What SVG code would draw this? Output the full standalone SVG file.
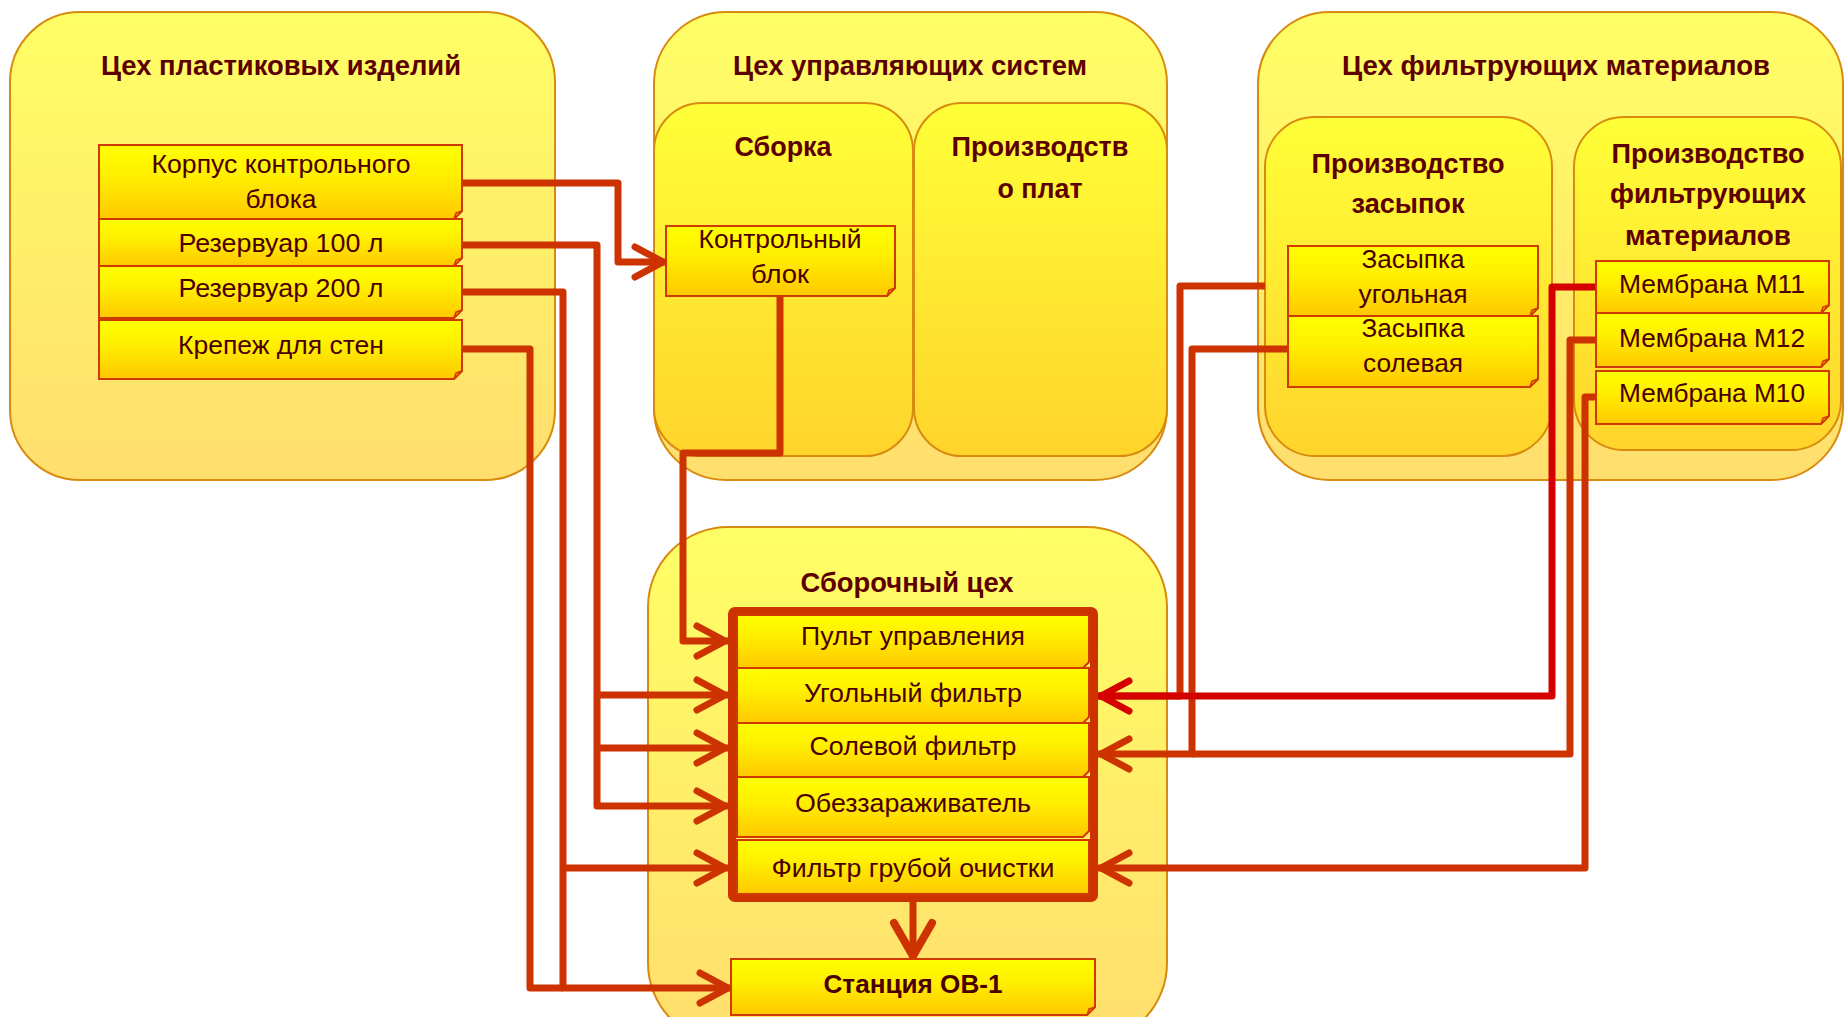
<svg xmlns="http://www.w3.org/2000/svg" width="1845" height="1017" viewBox="0 0 1845 1017">
<defs>
<linearGradient id="gGrp" x1="0" y1="0" x2="0" y2="1"><stop offset="0" stop-color="#FFFF66"/><stop offset="1" stop-color="#FFDE6E"/></linearGradient>
<linearGradient id="gSub" x1="0" y1="0" x2="0" y2="1"><stop offset="0" stop-color="#FFFF38"/><stop offset="1" stop-color="#FFD42C"/></linearGradient>
<linearGradient id="gNode" x1="0" y1="0" x2="0" y2="1"><stop offset="0" stop-color="#FFFF00"/><stop offset="0.4" stop-color="#FFF000"/><stop offset="1" stop-color="#FFC800"/></linearGradient>
<marker id="arr" markerUnits="userSpaceOnUse" markerWidth="44" markerHeight="44" refX="35" refY="20" orient="auto" overflow="visible"><path d="M4,5 L32,20 L4,35" fill="none" stroke="#CC3300" stroke-width="7" stroke-linecap="round" stroke-linejoin="round"/></marker>
<marker id="arrRed" markerUnits="userSpaceOnUse" markerWidth="44" markerHeight="44" refX="35" refY="20" orient="auto" overflow="visible"><path d="M4,5 L32,20 L4,35" fill="none" stroke="#D40000" stroke-width="7" stroke-linecap="round" stroke-linejoin="round"/></marker>
<marker id="arrBig" markerUnits="userSpaceOnUse" markerWidth="50" markerHeight="50" refX="40" refY="22" orient="auto" overflow="visible"><path d="M4,3 L37,22 L4,41" fill="none" stroke="#CC3300" stroke-width="8" stroke-linecap="round" stroke-linejoin="round"/></marker>
</defs>
<style>
.grp{fill:url(#gGrp);stroke:#D98B0F;stroke-width:2}
.sub{fill:url(#gSub);stroke:#D98B0F;stroke-width:2}
.node{fill:url(#gNode);stroke:#D03A00;stroke-width:2}
.fold{fill:#F0A000;stroke:#D03A00;stroke-width:1.5}
.frame{fill:none;stroke:#CC3300;stroke-width:8}
.title{font-family:"Liberation Sans",Arial,sans-serif;font-weight:bold;font-size:28px;fill:#5C0000;text-anchor:middle}
.lbl{font-family:"Liberation Sans",Arial,sans-serif;font-size:25px;fill:#4A0000;text-anchor:middle}
.con{fill:none;stroke:#CC3300;stroke-width:7;stroke-linejoin:round}
.red{stroke:#D40000}
</style>
<rect width="1845" height="1017" fill="#FFFFFF"/>

<g id="shop-plastic">
<rect class="grp" x="10" y="12" width="545" height="468" rx="70"/>
<text class="title" x="281" y="75" textLength="360" lengthAdjust="spacingAndGlyphs">Цех пластиковых изделий</text>
</g>
<g id="shop-control">
<rect class="grp" x="654" y="12" width="513" height="468" rx="72"/>
<text class="title" x="910" y="75" textLength="354" lengthAdjust="spacingAndGlyphs">Цех управляющих систем</text>
</g>
<g id="sub-assembly">
<rect class="sub" x="654" y="103" width="259" height="353" rx="48"/>
<text class="title" x="783" y="156" textLength="97" lengthAdjust="spacingAndGlyphs">Сборка</text>
</g>
<g id="sub-boards">
<rect class="sub" x="914" y="103" width="253" height="353" rx="48"/>
<text class="title" x="1040" y="156" textLength="177" lengthAdjust="spacingAndGlyphs">Производств</text>
<text class="title" x="1040" y="198" textLength="85" lengthAdjust="spacingAndGlyphs">о плат</text>
</g>
<g id="shop-filter">
<rect class="grp" x="1258" y="12" width="585" height="468" rx="72"/>
<text class="title" x="1556" y="75" textLength="428" lengthAdjust="spacingAndGlyphs">Цех фильтрующих материалов</text>
</g>
<g id="sub-fill">
<rect class="sub" x="1265" y="117" width="287" height="339" rx="50"/>
<text class="title" x="1408" y="173" textLength="193" lengthAdjust="spacingAndGlyphs">Производство</text>
<text class="title" x="1408" y="213" textLength="113" lengthAdjust="spacingAndGlyphs">засыпок</text>
</g>
<g id="sub-membrane">
<rect class="sub" x="1574" y="117" width="267" height="333" rx="50"/>
<text class="title" x="1708" y="163" textLength="193" lengthAdjust="spacingAndGlyphs">Производство</text>
<text class="title" x="1708" y="203" textLength="196" lengthAdjust="spacingAndGlyphs">фильтрующих</text>
<text class="title" x="1708" y="245" textLength="166" lengthAdjust="spacingAndGlyphs">материалов</text>
</g>
<g id="shop-assembly">
<rect class="grp" x="648" y="527" width="519" height="516" rx="80"/>
<text class="title" x="907" y="592" textLength="213" lengthAdjust="spacingAndGlyphs">Сборочный цех</text>
</g>

<g id="connectors">
<path class="con" d="M462,183 H618 V262 H666" marker-end="url(#arr)"/>
<path class="con" d="M462,245 H597 V806 H728" marker-end="url(#arr)"/>
<path class="con" d="M597,695 H728" marker-end="url(#arr)"/>
<path class="con" d="M597,748 H728" marker-end="url(#arr)"/>
<path class="con" d="M462,292 H563 V988 H731" marker-end="url(#arr)"/>
<path class="con" d="M563,868 H728" marker-end="url(#arr)"/>
<path class="con" d="M462,349 H530 V988 H563"/>
<path class="con" d="M780,297 V453 H683 V641 H728" marker-end="url(#arr)"/>
<path class="con" d="M913,902 V959" marker-end="url(#arrBig)"/>
<path class="con" d="M1265,286 H1180 V696 H1098"/>
<path class="con" d="M1288,349 H1192 V754 H1098" marker-end="url(#arr)"/>
<path class="con" d="M1596,340 H1570 V754 H1192"/>
<path class="con" d="M1596,397 H1585 V868 H1098" marker-end="url(#arr)"/>
<path class="con red" d="M1596,287 H1552 V696 H1098" marker-end="url(#arrRed)"/>
</g>

<g id="n-korpus">
<path class="node" d="M99,145 H462 V211 L454,219 H99 Z"/><path class="fold" d="M454,219 L456,213 L462,211 Z"/>
<text class="lbl" x="281" y="173" textLength="259" lengthAdjust="spacingAndGlyphs">Корпус контрольного</text>
<text class="lbl" x="281" y="208" textLength="71" lengthAdjust="spacingAndGlyphs">блока</text>
</g>
<g id="n-rez100">
<path class="node" d="M99,219 H462 V258 L454,266 H99 Z"/><path class="fold" d="M454,266 L456,260 L462,258 Z"/>
<text class="lbl" x="281" y="252" textLength="205" lengthAdjust="spacingAndGlyphs">Резервуар 100 л</text>
</g>
<g id="n-rez200">
<path class="node" d="M99,266 H462 V310 L454,318 H99 Z"/><path class="fold" d="M454,318 L456,312 L462,310 Z"/>
<text class="lbl" x="281" y="297" textLength="205" lengthAdjust="spacingAndGlyphs">Резервуар 200 л</text>
</g>
<g id="n-krepezh">
<path class="node" d="M99,320 H462 V371 L454,379 H99 Z"/><path class="fold" d="M454,379 L456,373 L462,371 Z"/>
<text class="lbl" x="281" y="354" textLength="206" lengthAdjust="spacingAndGlyphs">Крепеж для стен</text>
</g>
<g id="n-kontrol">
<path class="node" d="M666,226 H895 V288 L887,296 H666 Z"/><path class="fold" d="M887,296 L889,290 L895,288 Z"/>
<text class="lbl" x="780" y="248" textLength="163" lengthAdjust="spacingAndGlyphs">Контрольный</text>
<text class="lbl" x="780" y="283" textLength="58" lengthAdjust="spacingAndGlyphs">блок</text>
</g>
<g id="n-zas-ug">
<path class="node" d="M1288,246 H1538 V308 L1530,316 H1288 Z"/><path class="fold" d="M1530,316 L1532,310 L1538,308 Z"/>
<text class="lbl" x="1413" y="268" textLength="103" lengthAdjust="spacingAndGlyphs">Засыпка</text>
<text class="lbl" x="1413" y="303" textLength="109" lengthAdjust="spacingAndGlyphs">угольная</text>
</g>
<g id="n-zas-sol">
<path class="node" d="M1288,316 H1538 V379 L1530,387 H1288 Z"/><path class="fold" d="M1530,387 L1532,381 L1538,379 Z"/>
<text class="lbl" x="1413" y="337" textLength="103" lengthAdjust="spacingAndGlyphs">Засыпка</text>
<text class="lbl" x="1413" y="372" textLength="100" lengthAdjust="spacingAndGlyphs">солевая</text>
</g>
<g id="n-m11">
<path class="node" d="M1596,261 H1829 V305 L1821,313 H1596 Z"/><path class="fold" d="M1821,313 L1823,307 L1829,305 Z"/>
<text class="lbl" x="1712" y="293" textLength="186" lengthAdjust="spacingAndGlyphs">Мембрана М11</text>
</g>
<g id="n-m12">
<path class="node" d="M1596,313 H1829 V359 L1821,367 H1596 Z"/><path class="fold" d="M1821,367 L1823,361 L1829,359 Z"/>
<text class="lbl" x="1712" y="347" textLength="186" lengthAdjust="spacingAndGlyphs">Мембрана М12</text>
</g>
<g id="n-m10">
<path class="node" d="M1596,371 H1829 V416 L1821,424 H1596 Z"/><path class="fold" d="M1821,424 L1823,418 L1829,416 Z"/>
<text class="lbl" x="1712" y="402" textLength="186" lengthAdjust="spacingAndGlyphs">Мембрана М10</text>
</g>

<g id="n-kit">
<rect class="frame" x="732" y="611" width="362" height="287" rx="3"/>
<g id="n-pult">
<path class="node" d="M737,615 H1089 V662 L1083,668 H737 Z"/>
<text class="lbl" x="913" y="645" textLength="224" lengthAdjust="spacingAndGlyphs">Пульт управления</text>
</g>
<g id="n-ugol">
<path class="node" d="M737,668 H1089 V717 L1083,723 H737 Z"/>
<text class="lbl" x="913" y="702" textLength="218" lengthAdjust="spacingAndGlyphs">Угольный фильтр</text>
</g>
<g id="n-sol">
<path class="node" d="M737,723 H1089 V771 L1083,777 H737 Z"/>
<text class="lbl" x="913" y="755" textLength="207" lengthAdjust="spacingAndGlyphs">Солевой фильтр</text>
</g>
<g id="n-obez">
<path class="node" d="M737,777 H1089 V831 L1083,837 H737 Z"/>
<text class="lbl" x="913" y="812" textLength="236" lengthAdjust="spacingAndGlyphs">Обеззараживатель</text>
</g>
<g id="n-grub">
<path class="node" d="M737,840 H1089 V894 H737 Z"/>
<text class="lbl" x="913" y="877" textLength="283" lengthAdjust="spacingAndGlyphs">Фильтр грубой очистки</text>
</g>
</g>
<g id="n-station">
<path class="node" d="M731,959 H1095 V1007 L1087,1015 H731 Z"/><path class="fold" d="M1087,1015 L1089,1009 L1095,1007 Z"/>
<text class="title" x="913" y="993" style="font-size:25px;fill:#4A0000" textLength="179" lengthAdjust="spacingAndGlyphs">Станция ОВ-1</text>
</g>
</svg>
